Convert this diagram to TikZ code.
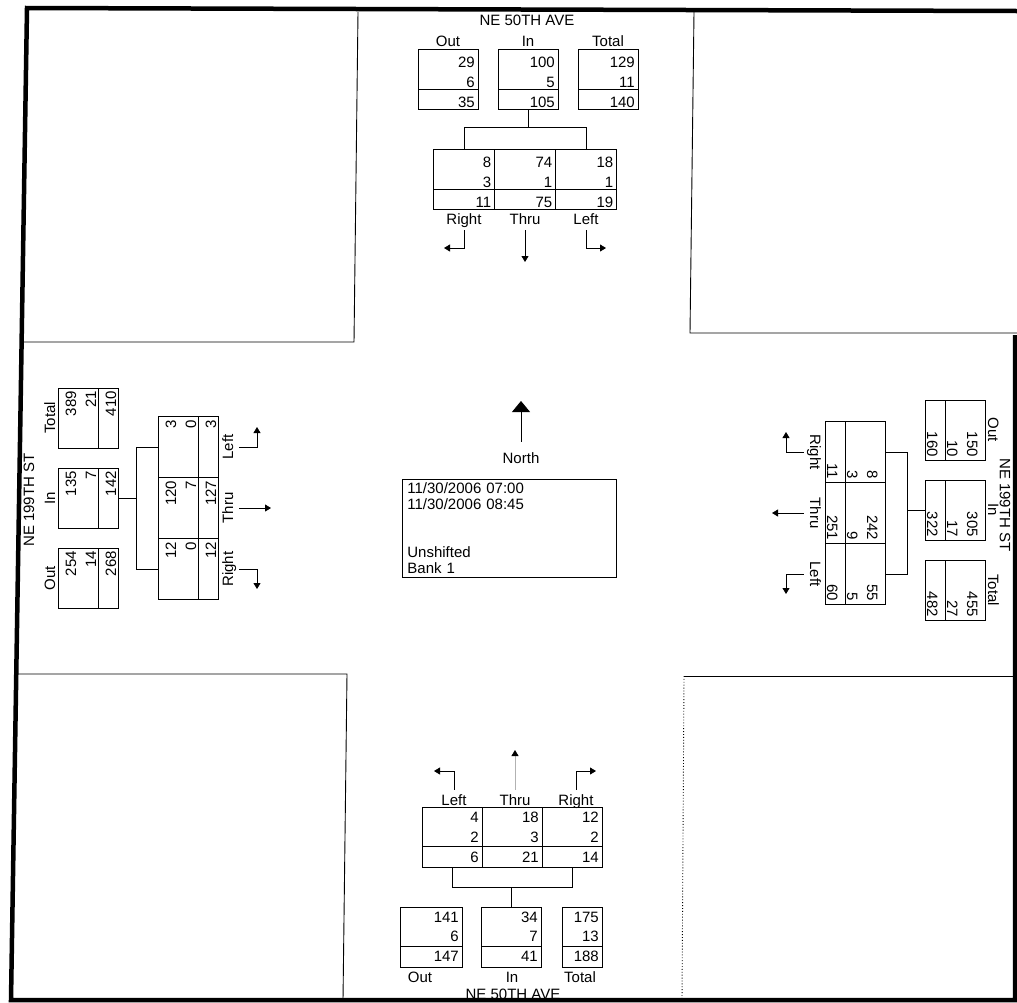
\documentclass[tikz,border=0pt]{standalone}
\usepackage{fontspec}
\setmainfont{Liberation Sans}
\usetikzlibrary{arrows.meta}

% one leg of the count sheet, laid out as the north leg and turned into place
\newcommand{\approach}[5]{%
  \begin{scope}[#1,transform shape]
    \foreach \u/\v/\w/\lbl [count=\i] in {#4} {
      \pgfmathsetmacro{\xa}{(\i-2)*80}
      \node[cnt] (#2b\i) at (\xa,30) {};
      \draw[cell] (\xa-30,40) -- (\xa+30,40);
      \node[hdr] (#2h\i) at (\xa,-3) {\lbl};
      \node[num] (#2b\i u) at (\xa+27,18) {\u};
      \node[num] (#2b\i v) at (\xa+27,38) {\v};
      \node[num] (#2b\i w) at (\xa+27,58) {\w};
    }
    \foreach \u/\v/\w/\lbl [count=\i] in {#5} {
      \pgfmathsetmacro{\xa}{#3+(\i-2)*61}
      \node[mvt] (#2m\i) at (\xa,130) {};
      \node[num] (#2m\i u) at (\xa+27.5,118) {\u};
      \node[num] (#2m\i v) at (\xa+27.5,138) {\v};
      \node[num] (#2m\i w) at (\xa+27.5,158) {\w};
      \node[mvlbl] (#2l\i) at (\xa,175) {\lbl};
      \coordinate (#2j\i) at (\xa,78);
    }
    \draw[cell] (#3-91.5,140) -- (#3+91.5,140);
    \coordinate (#2j) at (0,78);
    \draw[cell] (#2b2) -- (#2j);
    \draw[cell] (#2m1) -- (#2j1) -- (#2j3) -- (#2m3);
    \coordinate (#2k1) at (#3-61,199);
    \coordinate (#2e1) at (#3-81,199);
    \coordinate (#2e2) at (#3,213);
    \coordinate (#2k3) at (#3+61,199);
    \coordinate (#2e3) at (#3+81,199);
    \draw[mvarrow] (#2l1) -- (#2k1) -- (#2e1);
    \draw[mvarrow] (#2l2) -- (#2e2);
    \draw[mvarrow] (#2l3) -- (#2k3) -- (#2e3);
  \end{scope}}

\begin{document}
\begin{tikzpicture}[x=1pt,y=-1pt,font=\fontsize{15}{16}\selectfont,
  cell/.style={line width=0.8pt},
  cnt/.style={draw,line width=0.8pt,minimum width=60pt,minimum height=60pt,inner sep=0pt},
  mvt/.style={cnt,minimum width=61pt},
  num/.style={anchor=base east,inner sep=0pt},
  hdr/.style={anchor=base,inner sep=0pt},
  mvlbl/.style={hdr,text depth=2pt},
  mvarrow/.style={line width=0.8pt,shorten <=4pt,-{Triangle[length=6pt,width=7pt]}},
  street/.style={inner sep=0pt},
  block/.style={line width=0.9pt},
  frame/.style={line width=4.5pt,line join=miter}]
  \useasboundingbox (0,0) rectangle (1017,1002);

  % corner blocks and sheet frame
  \draw[block] (358,12) -- (354,342) -- (24,342);
  \draw[block] (694,12) -- (690,333) -- (1017,333);
  \draw[block] (15,674) -- (347,674) -- (343,1000);
  \draw[block] (1017,676) -- (684,676);
  \draw[block,dotted] (684,676) -- (682,1000);
  \draw[frame] (1017,11) -- (27,8) -- (11,1000) -- (1015,1000) -- (1015,335);

  % street names
  \node[street] (nname) at (527,20) {NE 50TH AVE};
  \node[street,rotate=90] (wname) at (29,500) {NE 199TH ST};
  \node[street,rotate=-90] (ename) at (1005,505) {NE 199TH ST};
  \node[street,anchor=base] (sname) at (513,999) {NE 50TH AVE};

  % north, west and east legs
  \approach{shift={(528,49)}}{n}{-3}{29/6/35/Out,100/5/105/In,129/11/140/Total}{8/3/11/Right,74/1/75/Thru,18/1/19/Left}
  \approach{shift={(58,498)},rotate=90}{w}{-10}{254/14/268/Out,135/7/142/In,389/21/410/Total}{12/0/12/Right,120/7/127/Thru,3/0/3/Left}
  \approach{shift={(985,510)},rotate=-90}{e}{3}{150/10/160/Out,305/17/322/In,455/27/482/Total}{8/3/11/Right,242/9/251/Thru,55/5/60/Left}

  % south leg, movements on top
  \foreach \u/\v/\w/\lbl/\xa/\lx [count=\i] in {4/2/6/Left/452/454,18/3/21/Thru/512/515,12/2/14/Right/572/576} {
    \node[cnt] (sm\i) at (\xa,837) {};
    \node[num] (sm\i u) at (\xa+27,822) {\u};
    \node[num] (sm\i v) at (\xa+27,842) {\v};
    \node[num] (sm\i w) at (\xa+27,862) {\w};
    \node[mvlbl] (sl\i) at (\lx,805) {\lbl};
  }
  \draw[cell] (422,846) -- (602,846);
  \foreach \u/\v/\w/\lbl/\xa/\bw/\lx [count=\i] in {141/6/147/Out/431/62/420,34/7/41/In/511/60/512,175/13/188/Total/582/40/580} {
    \node[cnt,minimum width=\bw pt] (sb\i) at (\xa,937) {};
    \draw[cell] (\xa-\bw/2,946) -- (\xa+\bw/2,946);
    \node[num] (sb\i u) at (\xa+\bw/2-3,922) {\u};
    \node[num] (sb\i v) at (\xa+\bw/2-3,941) {\v};
    \node[num] (sb\i w) at (\xa+\bw/2-3,961) {\w};
    \node[hdr] (sh\i) at (\lx,982) {\lbl};
  }
  \coordinate (sj1) at (452,887);
  \coordinate (sj3) at (572,887);
  \coordinate (sj) at (511,887);
  \draw[cell] (sm1) -- (sj1) -- (sj3) -- (sm3);
  \draw[cell] (sj) -- (sb2);
  \coordinate (sk1) at (454,771);
  \coordinate (se1) at (434,771);
  \coordinate (se2) at (515,750);
  \coordinate (sk3) at (576,771);
  \coordinate (se3) at (596,771);
  \draw[mvarrow] (sl1) -- (sk1) -- (se1);
  \draw[mvarrow,draw=black!30,-{Triangle[length=6pt,width=7pt,color=black]}] (sl2) -- (se2);
  \draw[mvarrow] (sl3) -- (sk3) -- (se3);

  % north sign and count info
  \node (compass) at (521,458) {North};
  \coordinate (ntip) at (521,401);
  \draw[line width=0.8pt,shorten <=7pt,-{Triangle[length=11pt,width=18pt]}] (compass) -- (ntip);
  \node[draw,line width=0.8pt,anchor=north west,align=left,text width=204pt,inner xsep=5pt,inner ysep=3.5pt] (info) at (402,479) {11/30/2006 07:00\\11/30/2006 08:45\\[32pt]Unshifted\\Bank 1};
\end{tikzpicture}
\end{document}
